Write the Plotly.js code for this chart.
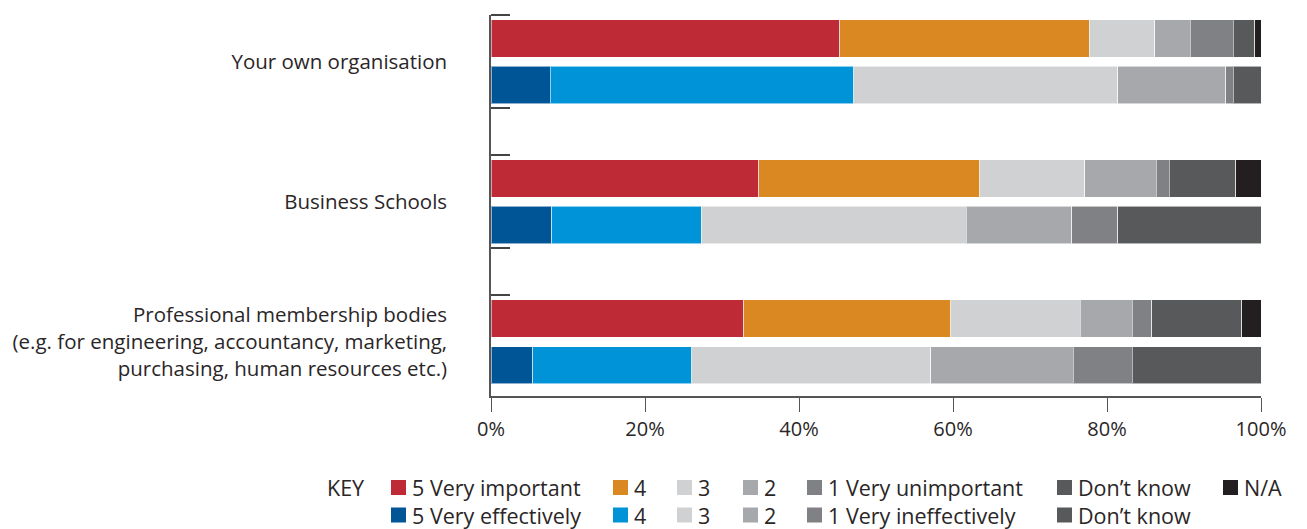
<!DOCTYPE html>
<html>
<head>
<meta charset="utf-8">
<script src="https://cdn.plot.ly/plotly-3.0.1.min.js"></script>
<style>html,body{margin:0;padding:0;background:#fff;}#chart{width:1307px;height:529px;}</style>
</head>
<body>
<div id="chart"></div>
<script>
// ---------- DATA ----------
const categories = [
  "Your own organisation",
  "Business Schools",
  "Professional membership bodies<br>(e.g. for engineering, accountancy, marketing,<br>purchasing, human resources etc.)"
];
// Importance (% of respondents)
const importanceNames = ["5 Very important", "4", "3", "2", "1 Very unimportant", "Don’t know", "N/A"];
const imp5  = [45.3, 34.8, 32.8];
const imp4  = [32.4, 28.7, 26.9];
const imp3  = [8.5, 13.6, 16.8];
const imp2  = [4.6, 9.3, 6.8];
const imp1  = [5.6, 1.7, 2.5];
const impDK = [2.8, 8.6, 11.7];
const impNA = [0.8, 3.3, 2.5];
// Effectiveness (% of respondents)
const effectivenessNames = ["5 Very effectively", "4", "3", "2", "1 Very ineffectively", "Don’t know"];
const eff5  = [7.7, 7.9, 5.4];
const eff4  = [39.4, 19.4, 20.7];
const eff3  = [34.3, 34.4, 31.0];
const eff2  = [14.0, 13.7, 18.5];
const eff1  = [1.0, 6.0, 7.7];
const effDK = [3.6, 18.6, 16.7];
const xTickVals = [0, 20, 40, 60, 80, 100];
const xTickText = ["0%", "20%", "40%", "60%", "80%", "100%"];

// ---------- STYLE ----------
const importanceColors = ["#be2b37", "#da8821", "#d0d1d3", "#a7a8ab", "#808184", "#58595b", "#231f20"];
const effectivenessColors = ["#005596", "#0093d7", "#d0d1d3", "#a7a8ab", "#808184", "#58595b"];
const FONT = "'Open Sans', 'Noto Sans', sans-serif";
const TXT = "#2a2627";
const AX = "#555555";

const importanceSeries = [imp5, imp4, imp3, imp2, imp1, impDK, impNA];
const effectivenessSeries = [eff5, eff4, eff3, eff2, eff1, effDK];

const impPos = categories.map((_, i) => 3 * i);
const effPos = categories.map((_, i) => 3 * i + 1);
const labelPos = categories.map((_, i) => 3 * i + 0.5);
const bracketPos = [];
categories.forEach((_, i) => { bracketPos.push(3 * i - 0.5); if (i < categories.length - 1) bracketPos.push(3 * i + 1.5); });

const traces = [];
importanceSeries.forEach((vals, k) => {
  traces.push({
    type: "bar", orientation: "h", x: vals, y: impPos, width: 0.8,
    name: importanceNames[k], showlegend: false,
    marker: { color: importanceColors[k], line: { color: "rgba(255,255,255,0.55)", width: 1 } },
    hovertemplate: "%{x:.1f}%<extra>" + importanceNames[k] + "</extra>"
  });
});
effectivenessSeries.forEach((vals, k) => {
  traces.push({
    type: "bar", orientation: "h", x: vals, y: effPos, width: 0.8,
    name: effectivenessNames[k], showlegend: false,
    marker: { color: effectivenessColors[k], line: { color: "rgba(255,255,255,0.55)", width: 1 } },
    hovertemplate: "%{x:.1f}%<extra>" + effectivenessNames[k] + "</extra>"
  });
});

// ---------- LAYOUT ----------
const W = 1307, H = 529;
const M = { l: 491, r: 46, t: 15, b: 133 };
const plotW = W - M.l - M.r, plotH = H - M.t - M.b;
const px2x = px => (px - M.l) / plotW;
const py2y = py => (H - M.b - py) / plotH;

const legendCols = [391, 613, 677, 743, 807, 1057, 1223];
const legendRows = [487.5, 515];
const SQ = 15, TEXT_OFF = 20;
const LEG_FONT = 21.5;

const annotations = [];
const shapes = [];
annotations.push({ xref: "paper", yref: "paper", x: px2x(326), y: py2y(legendRows[0]), xanchor: "left", yanchor: "middle",
  text: "KEY", showarrow: false, borderpad: 0, font: { family: FONT, size: LEG_FONT, color: TXT } });
[[importanceNames, importanceColors], [effectivenessNames, effectivenessColors]].forEach(([names, cols], r) => {
  names.forEach((nm, k) => {
    const x0 = legendCols[k], yc = legendRows[r];
    shapes.push({ type: "rect", xref: "paper", yref: "paper",
      x0: px2x(x0), x1: px2x(x0 + SQ), y0: py2y(yc + SQ / 2), y1: py2y(yc - SQ / 2),
      fillcolor: cols[k], line: { width: 0 } });
    annotations.push({ xref: "paper", yref: "paper", x: px2x(x0 + TEXT_OFF), y: py2y(yc), xanchor: "left", yanchor: "middle",
      text: nm, showarrow: false, borderpad: 0, font: { family: FONT, size: LEG_FONT, color: TXT } });
  });
});

const layout = {
  width: W, height: H,
  margin: M,
  paper_bgcolor: "#ffffff", plot_bgcolor: "#ffffff",
  barmode: "stack",
  showlegend: false,
  font: { family: FONT, color: TXT },
  xaxis: {
    range: [0, 100], tickmode: "array", tickvals: xTickVals, ticktext: xTickText,
    showgrid: false, zeroline: false, showline: true, linecolor: AX, linewidth: 1.5,
    ticks: "outside", ticklen: 14, tickwidth: 1.2, tickcolor: AX,
    tickfont: { family: FONT, size: 20, color: TXT }, fixedrange: true
  },
  yaxis: {
    range: [7.66, -0.5], tickmode: "array", tickvals: labelPos, ticktext: categories,
    showgrid: false, zeroline: false, showline: true, linecolor: AX, linewidth: 1.5,
    ticks: "", ticklabelstandoff: 38,
    minor: { tickmode: "array", tickvals: bracketPos, ticks: "inside", ticklen: 19, tickwidth: 1.5, tickcolor: "#444", showgrid: false },
    tickfont: { family: FONT, size: 20.5, color: TXT }, fixedrange: true
  },
  annotations: annotations,
  shapes: shapes
};

Plotly.newPlot("chart", traces, layout, { displayModeBar: false });
</script>
</body>
</html>
